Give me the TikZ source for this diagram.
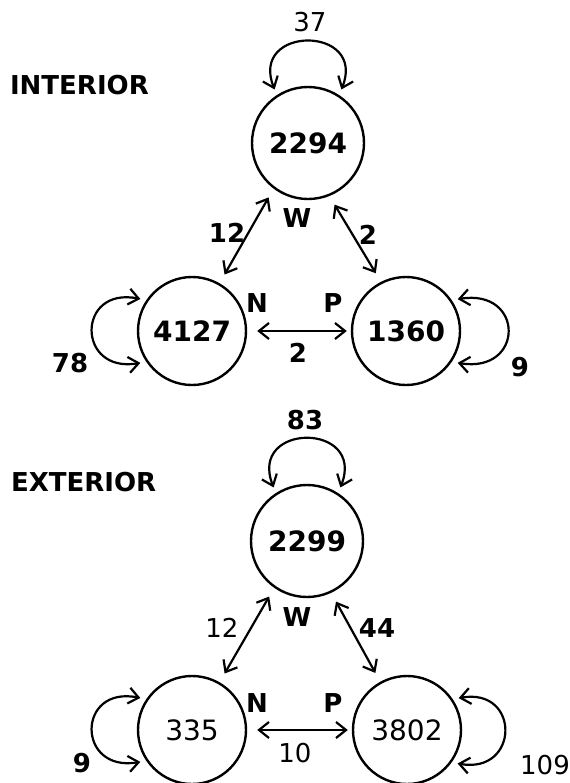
\documentclass[tikz,border=0pt]{standalone}
\usepackage{fontspec}
\setmainfont{DejaVu Sans}
\usetikzlibrary{arrows.meta}

\begin{document}
\begin{tikzpicture}[
    x=0.5pt, y=-0.5pt,
    >={Straight Barb[length=5pt, width=8pt, line width=1.1pt]},
    state/.style={draw, circle, line width=1.2pt, minimum size=54pt, inner sep=0pt, font=\fontsize{14}{14}\selectfont\bfseries},
    wstate/.style={state, minimum size=56pt},
    thin/.style={font=\fontsize{14}{14}\selectfont},
    lbl/.style={font=\fontsize{13}{13}\selectfont},
    blbl/.style={font=\fontsize{13}{13}\selectfont\bfseries},
    region/.style={font=\fontsize{13}{13}\selectfont\bfseries, anchor=west},
    arr/.style={<->, line width=1.1pt, shorten <=5pt, shorten >=5pt},
    loopy/.style={arr, shorten <=3pt, shorten >=3pt},
]
\useasboundingbox (0,0) rectangle (569,783);

% Interior
\node[region] (tInt) at (3, 85) {INTERIOR};
\node[wstate] (wI) at (308, 143) {2294};
\node[state] (nI) at (192, 331) {4127};
\node[state] (pI) at (406, 331) {1360};

\draw[loopy] (wI.123) .. controls +(-28,-70) and +(28,-70) .. (wI.57);
\draw[loopy] (nI.146) .. controls +(-70,-14) and +(-70,12) .. (nI.214);
\draw[loopy] (pI.34) .. controls +(73,-12) and +(73,12) .. (pI.-34);
\draw[arr] (wI.233) -- (nI.60);
\draw[arr] (wI.292) -- (pI.117);
\draw[arr, shorten >=2pt] (nI.east) -- (pI.west);

\node[lbl] (lWWi) at (310, 22) {37};
\node[blbl] (lNNi) at (70, 363) {78};
\node[blbl] (lPPi) at (520, 367) {9};
\node[blbl] (lWNi) at (227, 233) {12};
\node[blbl] (lWPi) at (368, 235) {2};
\node[blbl] (lNPi) at (298, 353) {2};
\node[blbl] (cWi) at (297, 218) {W};
\node[blbl] (cNi) at (257, 303) {N};
\node[blbl] (cPi) at (333, 303) {P};

% Exterior
\node[region] (tExt) at (4, 482) {EXTERIOR};
\node[wstate] (wE) at (307, 541) {2299};
\node[state, thin] (nE) at (192, 730) {335};
\node[state, thin] (pE) at (407, 730) {3802};

\draw[loopy] (wE.123) .. controls +(-28,-71) and +(28,-71) .. (wE.57);
\draw[loopy] (nE.146) .. controls +(-70,-14) and +(-70,12) .. (nE.214);
\draw[loopy] (pE.34) .. controls +(68,-12) and +(68,12) .. (pE.-36);
\draw[arr] (wE.235) -- (nE.60);
\draw[arr] (wE.295) -- (pE.119);
\draw[arr, shorten >=2pt] (nE.east) -- (pE.west);

\node[blbl] (lWWe) at (305, 420) {83};
\node[blbl] (lNNe) at (82, 763) {9};
\node[lbl] (lPPe) at (545, 765) {109};
\node[lbl] (lWNe) at (222, 628) {12};
\node[blbl] (lWPe) at (377, 628) {44};
\node[lbl] (lNPe) at (295, 753) {10};
\node[blbl] (cWe) at (297, 617) {W};
\node[blbl] (cNe) at (257, 703) {N};
\node[blbl] (cPe) at (333, 703) {P};

\end{tikzpicture}
\end{document}
